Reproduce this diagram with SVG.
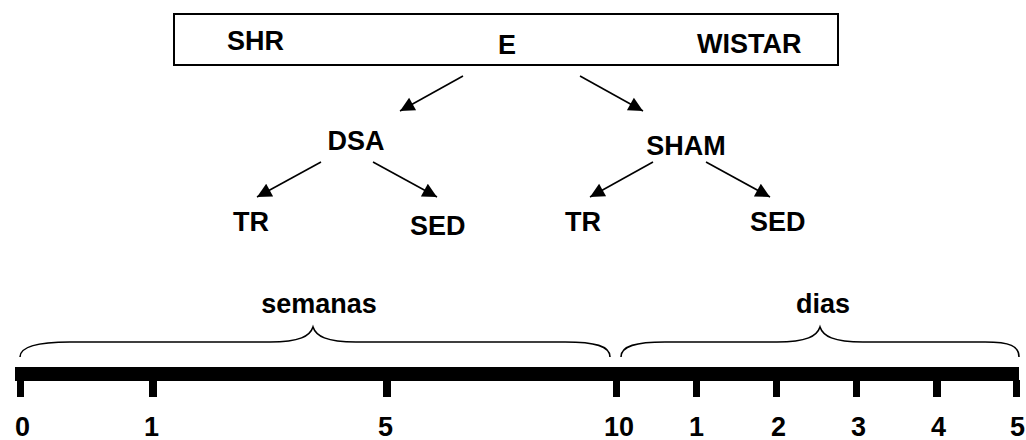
<svg xmlns="http://www.w3.org/2000/svg" width="1026" height="440" viewBox="0 0 1026 440">
  <style>
    .lbl { font-family: "Liberation Sans", Arial, sans-serif; font-weight: bold; font-size: 27px; fill: #000; }
    .mid { text-anchor: middle; }
    .edge { stroke: #000; stroke-width: 1.6; fill: none; marker-end: url(#arrow); }
    .brace { stroke: #000; stroke-width: 1.6; fill: none; }
    .tick { fill: #000; }
  </style>
  <defs>
    <marker id="arrow" viewBox="0 0 10 10" refX="10" refY="5" markerWidth="10" markerHeight="9" markerUnits="strokeWidth" orient="auto">
      <path d="M0,0 L10,5 L0,10 z" fill="#000"/>
    </marker>
  </defs>
  <rect width="1026" height="440" fill="#fff"/>

  <!-- strain box -->
  <g id="strains">
    <rect x="174" y="14" width="664" height="51" fill="#fff" stroke="#000" stroke-width="2"/>
    <text class="lbl" x="227" y="50">SHR</text>
    <text class="lbl mid" x="507" y="54">E</text>
    <text class="lbl" x="697" y="53">WISTAR</text>
  </g>

  <g id="dsa"><text class="lbl mid" x="356" y="150">DSA</text></g>
  <g id="sham"><text class="lbl mid" x="686" y="155">SHAM</text></g>
  <g id="dsa-tr"><text class="lbl" x="233" y="231">TR</text></g>
  <g id="dsa-sed"><text class="lbl" x="410" y="235">SED</text></g>
  <g id="sham-tr"><text class="lbl" x="565" y="231">TR</text></g>
  <g id="sham-sed"><text class="lbl" x="750" y="231">SED</text></g>

  <!-- connectors -->
  <g id="connectors">
    <line class="edge" x1="463" y1="76" x2="400" y2="111"/>
    <line class="edge" x1="580" y1="76" x2="643" y2="111"/>
    <line class="edge" x1="321" y1="162" x2="257" y2="197"/>
    <line class="edge" x1="373" y1="162" x2="437" y2="197"/>
    <line class="edge" x1="653" y1="162" x2="590" y2="197"/>
    <line class="edge" x1="706" y1="162" x2="770" y2="197"/>
  </g>

  <!-- timeline -->
  <g id="timeline">
    <path class="brace" d="M20,357 C20,346 40,342 70,342 L270,342 C300,342 310,336 313,327 C316,336 326,342 356,342 L565,342 C595,342 610,346 610,357"/>
    <path class="brace" d="M621,357 C621,346 636,342 665,342 L777,342 C807,342 817,336 820,327 C823,336 833,342 863,342 L985,342 C1010,342 1019,346 1019,357"/>
    <text class="lbl mid" x="319" y="313">semanas</text>
    <text class="lbl mid" x="823" y="313">dias</text>

    <rect x="15" y="367" width="1004" height="14" fill="#000"/>
    <rect class="tick" x="17" y="380" width="7" height="17"/>
    <rect class="tick" x="149" y="380" width="8" height="17"/>
    <rect class="tick" x="383" y="380" width="8" height="17"/>
    <rect class="tick" x="613" y="380" width="7" height="17"/>
    <rect class="tick" x="693" y="380" width="7" height="17"/>
    <rect class="tick" x="773" y="380" width="7" height="17"/>
    <rect class="tick" x="853" y="380" width="7" height="17"/>
    <rect class="tick" x="933" y="380" width="8" height="17"/>
    <rect class="tick" x="1013" y="380" width="7" height="17"/>

    <text class="lbl" x="15" y="436">0</text>
    <text class="lbl" x="144" y="436">1</text>
    <text class="lbl" x="378" y="436">5</text>
    <text class="lbl" x="604" y="436">10</text>
    <text class="lbl" x="689" y="436">1</text>
    <text class="lbl" x="771" y="436">2</text>
    <text class="lbl" x="851" y="436">3</text>
    <text class="lbl" x="931" y="436">4</text>
    <text class="lbl" x="1010" y="436">5</text>
  </g>
</svg>
